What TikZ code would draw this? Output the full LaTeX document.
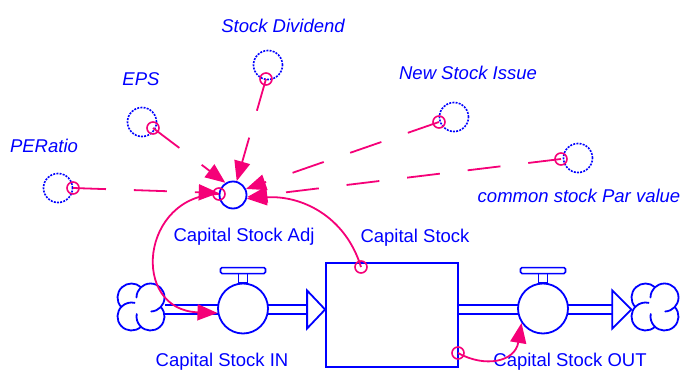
\documentclass[tikz,border=0pt]{standalone}
\usepackage{fontspec}
\setmainfont{Liberation Sans}
\usetikzlibrary{arrows.meta,calc}
\definecolor{vblue}{RGB}{0,0,255}
\definecolor{vpink}{RGB}{245,0,120}
\begin{document}
\begin{tikzpicture}[x=1pt,y=-1pt,
  lbl/.style={text=vblue, font=\fontsize{18.5}{20}\selectfont, inner sep=0pt, anchor=base},
  ilbl/.style={lbl, font=\fontsize{18.5}{20}\selectfont\itshape},
  aux/.style={circle, draw=vblue, line width=1.8pt, minimum size=27pt, inner sep=0pt},
  ghost/.style={circle, draw=vblue, line width=1.6pt, dash pattern=on 2pt off 1.2pt, minimum size=29pt, inner sep=0pt},
  tap/.style={circle, draw=vpink, line width=1.6pt, minimum size=12pt, inner sep=0pt},
  link/.style={draw=vpink, line width=1.8pt, -{Triangle[length=20pt,width=16pt]}},
  dlink/.style={link, dash pattern=on 33pt off 28pt},
  stockbox/.style={rectangle, draw=vblue, line width=1.8pt, minimum width=132pt, minimum height=104pt, inner sep=0pt},
  valve/.style={circle, draw=vblue, fill=white, line width=1.8pt, minimum size=50pt, inner sep=0pt},
  pipe/.style={draw=vblue, line width=2pt, double=white, double distance=7pt},
  flowhead/.style={draw=vblue, fill=white, line width=1.8pt, line join=miter},
  cloudspot/.style={circle, minimum size=47pt, inner sep=0pt},
  cloudline/.style={draw=vblue, line width=1.8pt, line cap=round},
  handle/.style={draw=vblue, fill=white, line width=1.6pt},
  cloud/.pic={
    % white body of four lobes
    \fill[white] (-9.5,-9.5) circle (14) (9.5,-9.5) circle (14)
                 (9.5,9.5) circle (14) (-9.5,9.5) circle (14);
    % outline: outer arcs of the lobes, some curling inwards
    \draw[cloudline] (-9.5,-9.5) ++(137.3:14) arc (137.3:312.7:14);
    \draw[cloudline] (9.5,-9.5) ++(180:14) arc (180:447:14);
    \draw[cloudline] (9.5,9.5) ++(-42.7:14) arc (-42.7:190:14);
    \draw[cloudline] (-9.5,9.5) ++(47.3:14) arc (47.3:283:14);
  }
]
\useasboundingbox (0,0) rectangle (681,370);

% auxiliary variable and its shadow inputs
\node[aux] (adj) at (233,195) {};
\node[lbl] (tadj) at (244,241) {Capital Stock Adj};

\node[ghost] (per) at (58,188) {};
\node[ghost] (eps) at (142,122) {};
\node[ghost] (div) at (268,65) {};
\node[ghost] (nsi) at (454,117) {};
\node[ghost] (par) at (578,158) {};

\node[ilbl] (tper) at (44,152) {PERatio};
\node[ilbl] (teps) at (141,85) {EPS};
\node[ilbl] (tdiv) at (283,32) {Stock Dividend};
\node[ilbl] (tnsi) at (468,79) {New Stock Issue};
\node[ilbl] (tpar) at (579,202) {common stock Par value};

% stock
\node[stockbox] (stock) at (392,315) {};
\node[lbl] (tstock) at (415,242) {Capital Stock};

% flows
\node[cloudspot] (cin) at (141,307) {};
\node[cloudspot] (cout) at (655,307) {};

\draw[pipe] (cin.east |- 0,309.5) -- (219,309.5);
\draw[pipe] (267,309.5) -- ($(stock.west |- 0,309.5)+(-18,0)$);
\draw[pipe] (stock.east |- 0,309.5) -- (519,309.5);
\draw[pipe] (567,309.5) -- ($(cout.west |- 0,309.5)+(-19,0)$);

\node[valve] (vin) at (243,308.5) {};
\node[valve] (vout) at (543,308.5) {};
\node[lbl] (tvin) at (222,366) {Capital Stock IN};
\node[lbl] (tvout) at (570,366) {Capital Stock OUT};

\foreach \v in {vin,vout}{
  \draw[handle] ($(\v.north)+(-4.5,0)$) rectangle ($(\v.north)+(4.5,-9)$);
  \draw[handle, rounded corners=1.5pt] ($(\v.north)+(-22.5,-9)$) rectangle ($(\v.north)+(22.5,-15)$);
}

\draw[flowhead] (stock.west |- 0,309.5) -- ++(-18,-19) -- ++(0,38) -- cycle;
\draw[flowhead] (cout.west |- 0,309.5) -- ++(-19,-19) -- ++(0,38) -- cycle;

\pic at (cin.center) {cloud};
\pic at (cout.center) {cloud};

% connection points
\node[tap] (perO) at (73,188) {};
\node[tap] (epsO) at (153,128) {};
\node[tap] (divO) at (266,79) {};
\node[tap] (nsiO) at (439,122) {};
\node[tap] (parO) at (561,159) {};
\node[tap] (adjO) at (219,194) {};
\node[tap] (stockT) at (361,267) {};
\node[tap] (stockR) at (458,353) {};

% information links
\draw[dlink] (perO.center) -- (adj.172);
\draw[dlink] (epsO.center) -- (adj.122);
\draw[dlink] (divO.center) -- (adj.75);
\draw[dlink] (nsiO.center) -- (adj.25);
\draw[dlink] (parO.center) -- (adj.-8);
\draw[link] (stockT.center) .. controls (345,215) and (300,195) .. (adj.-15);
\draw[link] (adjO.center) .. controls (140,195) and (130,310) .. (vin.190);
\draw[link] (stockR.center) .. controls (485,368) and (515,362) .. (vout.214);
\end{tikzpicture}
\end{document}
